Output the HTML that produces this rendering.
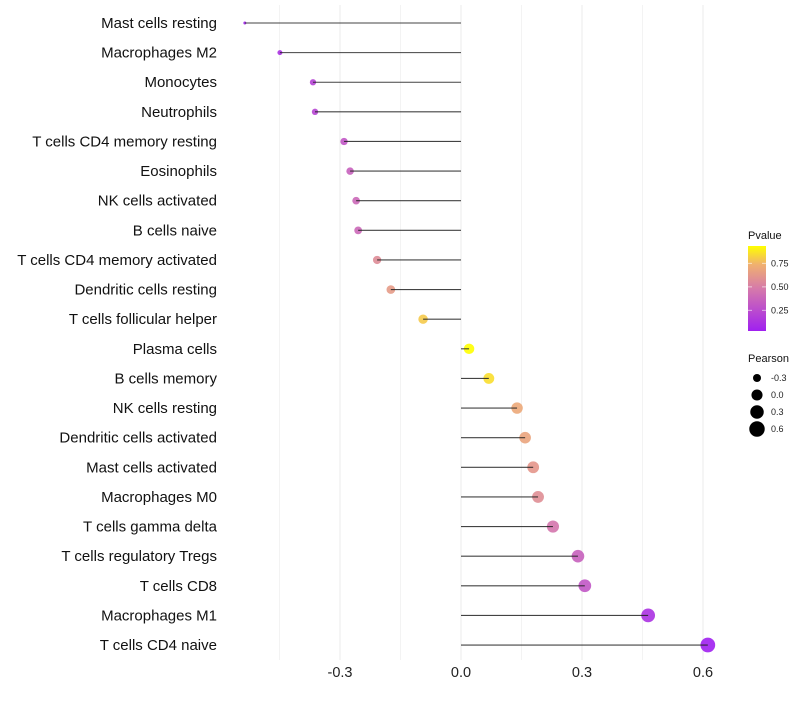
<!DOCTYPE html>
<html><head><meta charset="utf-8"><style>
body{margin:0;background:#fff;font-family:"Liberation Sans",sans-serif}
svg text{font-family:"Liberation Sans",sans-serif}
</style></head><body>
<svg id="c" width="800" height="700"></svg>
<script>
const categories=["Mast cells resting","Macrophages M2","Monocytes","Neutrophils","T cells CD4 memory resting","Eosinophils","NK cells activated","B cells naive","T cells CD4 memory activated","Dendritic cells resting","T cells follicular helper","Plasma cells","B cells memory","NK cells resting","Dendritic cells activated","Mast cells activated","Macrophages M0","T cells gamma delta","T cells regulatory  Tregs ","T cells CD8","Macrophages M1","T cells CD4 naive"];
const pearson=[-0.536,-0.449,-0.367,-0.362,-0.290,-0.275,-0.260,-0.255,-0.208,-0.174,-0.094,0.020,0.069,0.139,0.159,0.179,0.191,0.228,0.290,0.307,0.464,0.612];
const pvalue=[0.05,0.12,0.2,0.21,0.3,0.35,0.38,0.38,0.55,0.62,0.78,0.91,0.83,0.68,0.66,0.6,0.56,0.45,0.35,0.3,0.12,0.03];
const xTicks=[-0.3,0.0,0.3,0.6];
const xTickLabels=["-0.3","0.0","0.3","0.6"];
const colorTicks=[0.25,0.50,0.75];
const sizeTicks=[-0.3,0.0,0.3,0.6];

const NS="http://www.w3.org/2000/svg";
const svg=document.getElementById('c');
function el(t,a,p){const e=document.createElementNS(NS,t);for(const k in a)e.setAttribute(k,a[k]);(p||svg).appendChild(e);return e;}
const x=v=>461+v*403.3;
const y=i=>23+i*29.62;
const pMin=0.03,pMax=0.91;
const stops=[[0,[160,32,240]],[0.5,[214,122,170]],[0.78,[240,176,112]],[1,[255,255,0]]];
function col(p){let t=Math.max(0,Math.min(1,(p-pMin)/(pMax-pMin)));for(let i=1;i<stops.length;i++){if(t<=stops[i][0]){const a=stops[i-1],b=stops[i];const f=(t-a[0])/(b[0]-a[0]);const c=a[1].map((v,j)=>Math.round(v+(b[1][j]-v)*f));return `rgb(${c})`;}}return 'rgb(255,255,0)';}
const vMin=Math.min(...pearson),vMax=Math.max(...pearson);
const r=v=>{const t=Math.max(0,(v-vMin)/(vMax-vMin));return Math.sqrt(2.25+t*52);};

// grid
[-0.45,-0.15,0.15,0.45].forEach(v=>{const g=el('line',{x1:x(v),x2:x(v),y1:5,y2:660,stroke:'#f3f3f3','stroke-width':1});
});
xTicks.forEach((v,i)=>{const g=el('line',{x1:x(v),x2:x(v),y1:5,y2:660,stroke:'#ebebeb','stroke-width':1});

const t=el('text',{x:x(v),y:677,'text-anchor':'middle','font-size':14.5,fill:'#222'});t.textContent=xTickLabels[i];
});

categories.forEach((c,i)=>{
const t=el('text',{x:217,y:y(i)+5,'text-anchor':'end','font-size':15,fill:'#111'});t.textContent=c;

const p=el('circle',{cx:x(pearson[i]),cy:y(i),r:r(pearson[i]),fill:col(pvalue[i]),'fill-opacity':0.9});

const l=el('line',{x1:x(0),x2:x(pearson[i]),y1:y(i),y2:y(i),stroke:'#222','stroke-width':1.1,'stroke-opacity':0.85});

});

// color legend
const lt=el('text',{x:748,y:239,'font-size':11,fill:'#111'});lt.textContent='Pvalue';

const defs=el('defs',{});const lg=el('linearGradient',{id:'g',x1:0,y1:1,x2:0,y2:0},defs);
stops.forEach(s=>el('stop',{offset:s[0],'stop-color':`rgb(${s[1]})`},lg));
const bar=el('rect',{x:748,y:246,width:18,height:85,fill:'url(#g)'});

colorTicks.forEach(v=>{const yy=246+85*(1-(v-0.03)/(0.935-0.03));
el('line',{x1:748,x2:752,y1:yy,y2:yy,stroke:'#fff','stroke-opacity':0.6});el('line',{x1:762,x2:766,y1:yy,y2:yy,stroke:'#fff','stroke-opacity':0.6});
const t=el('text',{x:771,y:yy+3,'font-size':9,fill:'#222'});t.textContent=v.toFixed(2);
});

// size legend
const st=el('text',{x:748,y:362,'font-size':11,fill:'#111'});st.textContent='Pearson';

sizeTicks.forEach((v,i)=>{const yy=378+i*17;
const c=el('circle',{cx:757,cy:yy,r:r(v)+0.4,fill:'#000'});

const t=el('text',{x:771,y:yy+3,'font-size':9,fill:'#222'});t.textContent=v.toFixed(1);
});
</script>
</body></html>
